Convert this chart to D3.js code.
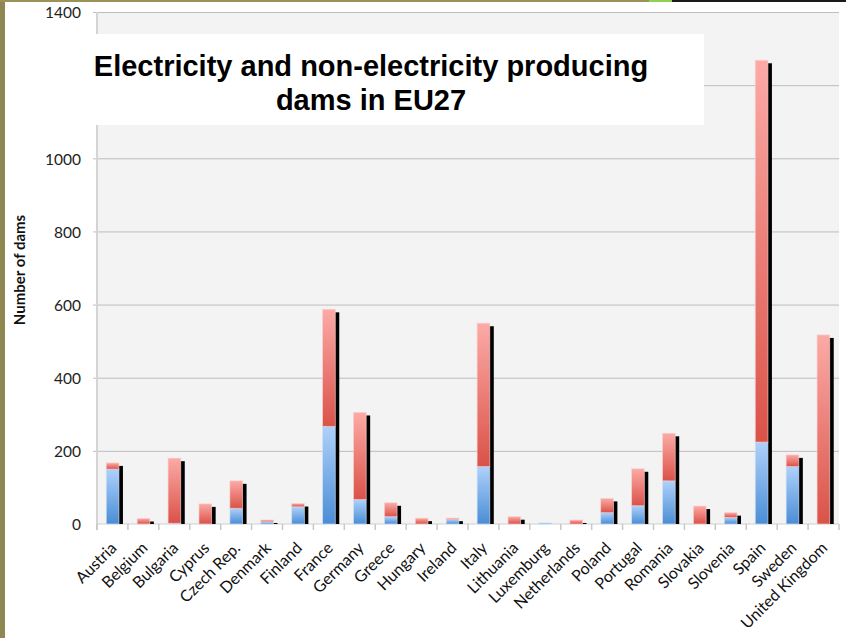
<!DOCTYPE html>
<html>
<head>
<meta charset="utf-8">
<script src="https://cdn.jsdelivr.net/npm/d3@7"></script>
<style>
  html, body { margin: 0; padding: 0; background: #ffffff; }
  svg { display: block; }
</style>
</head>
<body>
<svg id="chart" width="846" height="638"></svg>
<script>
// Dams per country: electricity producing (blue) and non-electricity producing (red)
const countries = ["Austria", "Belgium", "Bulgaria", "Cyprus", "Czech Rep.", "Denmark", "Finland",
  "France", "Germany", "Greece", "Hungary", "Ireland", "Italy", "Lithuania", "Luxemburg",
  "Netherlands", "Poland", "Portugal", "Romania", "Slovakia", "Slovenia", "Spain", "Sweden",
  "United Kingdom"];
const electricity = [150, 0, 2, 0, 43, 6, 47, 267, 67, 20, 0, 12, 157, 0, 3, 0, 31, 50, 118, 0, 18, 224, 157, 0];
const nonElectricity = [17, 15, 178, 55, 75, 5, 9, 320, 238, 38, 16, 4, 392, 20, 0, 11, 39, 101, 130, 49, 13, 1044, 32, 517];
const yTicks = [0, 200, 400, 600, 800, 1000, 1200, 1400];
const titleLines = ["Electricity and non-electricity producing", "dams in EU27"];
const yTitle = "Number of dams";

const svg = d3.select("#chart");
const W = 846, H = 638;
const plot = { left: 97, right: 839, top: 12, bottom: 524 };

// page frame: olive strip on the left, coloured rule along the top
svg.append("rect").attr("x", 0).attr("y", 0).attr("width", 5).attr("height", H).attr("fill", "#8e8752");
svg.append("rect").attr("x", 0).attr("y", 0).attr("width", 649).attr("height", 2).attr("fill", "#9a9258");
svg.append("rect").attr("x", 649).attr("y", 0).attr("width", 23).attr("height", 2).attr("fill", "#92d050");
svg.append("rect").attr("x", 672).attr("y", 0).attr("width", W - 672).attr("height", 2).attr("fill", "#1a1a1a");

const x = d3.scaleBand().domain(countries).range([plot.left, plot.right]).paddingInner(0.59).paddingOuter(0.3);
const y = d3.scaleLinear().domain([0, 1400]).range([plot.bottom, plot.top]);

const defs = svg.append("defs");
const gRed = defs.append("linearGradient").attr("id", "gradRed").attr("x1", 0).attr("y1", 0).attr("x2", 0).attr("y2", 1);
gRed.append("stop").attr("offset", "0%").attr("stop-color", "#fcaaa6");
gRed.append("stop").attr("offset", "100%").attr("stop-color", "#da5248");
const gBlue = defs.append("linearGradient").attr("id", "gradBlue").attr("x1", 0).attr("y1", 0).attr("x2", 0).attr("y2", 1);
gBlue.append("stop").attr("offset", "0%").attr("stop-color", "#aed1fb");
gBlue.append("stop").attr("offset", "100%").attr("stop-color", "#4a8dd5");
const blur = defs.append("filter").attr("id", "soft").attr("x", "-20%").attr("y", "-5%").attr("width", "140%").attr("height", "110%");
blur.append("feGaussianBlur").attr("stdDeviation", 0.5);

// plot background
svg.append("rect").attr("x", plot.left).attr("y", plot.top)
  .attr("width", plot.right - plot.left).attr("height", plot.bottom - plot.top)
  .attr("fill", "#f3f3f3");

// horizontal gridlines with small outside ticks
const yAxis = d3.axisLeft(y).tickValues(yTicks).tickSize(0).tickFormat(d3.format("d"));
const gy = svg.append("g").attr("transform", `translate(${plot.left - 4},0)`).call(yAxis);
gy.select(".domain").remove();
gy.selectAll(".tick line").attr("stroke", "#bdbdbd")
  .attr("x1", 0).attr("x2", plot.right - plot.left + 4);
gy.selectAll(".tick text")
  .attr("x", -12)
  .attr("dy", "0.38em")
  .attr("font-family", "Lato, 'Open Sans', sans-serif")
  .attr("font-size", 15.5)
  .attr("fill", "#222");
gy.selectAll(".tick").filter(d => d === 0).select("line").remove();

// left axis line
svg.append("line").attr("x1", plot.left).attr("x2", plot.left)
  .attr("y1", plot.top).attr("y2", plot.bottom + 6)
  .attr("stroke", "#d4d4d4").attr("stroke-width", 2);

// baseline and category separators
svg.append("line").attr("x1", plot.left).attr("x2", plot.right)
  .attr("y1", plot.bottom).attr("y2", plot.bottom)
  .attr("stroke", "#cfcfcf");
const seps = d3.range(countries.length + 1).map(i => plot.left + (plot.right - plot.left) * i / countries.length);
svg.append("g").selectAll("line").data(seps).join("line")
  .attr("x1", d => d).attr("x2", d => d)
  .attr("y1", plot.bottom).attr("y2", plot.bottom + 6)
  .attr("stroke", "#c8c8c8").attr("stroke-width", 1.5);

// stacked series
const rows = countries.map((c, i) => ({ country: c, electricity: electricity[i], nonElectricity: nonElectricity[i] }));
const stack = d3.stack().keys(["electricity", "nonElectricity"])(rows);
const totals = rows.map(r => r.electricity + r.nonElectricity);

// drop shadows behind each column
svg.append("g").selectAll("rect").data(rows).join("rect")
  .attr("x", (d) => x(d.country) + 4)
  .attr("y", (d, i) => y(totals[i]) + 3)
  .attr("width", x.bandwidth())
  .attr("height", (d, i) => Math.max(0, plot.bottom - y(totals[i]) - 3))
  .attr("fill", "#000")
  .attr("filter", "url(#soft)");

const fills = { electricity: "url(#gradBlue)", nonElectricity: "url(#gradRed)" };
const glow = { electricity: "#cfe2fb", nonElectricity: "#fbd0ce" };
svg.append("g").selectAll("g").data(stack).join("g")
  .each(function (series) {
    d3.select(this).selectAll("rect").data(series.filter(s => s[1] - s[0] > 0)).join("rect")
      .attr("x", s => x(s.data.country))
      .attr("y", s => y(s[1]))
      .attr("width", x.bandwidth())
      .attr("height", s => y(s[0]) - y(s[1]))
      .attr("fill", fills[series.key])
      .attr("stroke", glow[series.key])
      .attr("stroke-width", 0.8)
      .attr("stroke-opacity", 0.8);
  });

// category labels, rotated
svg.append("g").selectAll("text").data(countries).join("text")
  .attr("transform", d => `translate(${x(d) + x.bandwidth() / 2 + 5},${plot.bottom + 25}) rotate(-45)`)
  .attr("text-anchor", "end")
  .attr("font-family", "Lato, 'Open Sans', sans-serif")
  .attr("font-size", 16)
  .attr("fill", "#111")
  .text(d => d);

// y axis title
svg.append("text")
  .attr("transform", `translate(25,${(plot.top + plot.bottom) / 2 + 2}) rotate(-90)`)
  .attr("text-anchor", "middle")
  .attr("font-family", "Lato, 'Open Sans', sans-serif")
  .attr("font-weight", "bold")
  .attr("font-size", 15)
  .attr("fill", "#111")
  .text(yTitle);

// title panel
svg.append("rect").attr("x", 5).attr("y", 34).attr("width", 699).attr("height", 91).attr("fill", "#ffffff");
svg.append("g").selectAll("text").data(titleLines).join("text")
  .attr("x", 371)
  .attr("y", (d, i) => 76 + i * 34)
  .attr("text-anchor", "middle")
  .attr("font-family", "'Liberation Sans', Arial, sans-serif")
  .attr("font-weight", "bold")
  .attr("font-size", 29)
  .attr("fill", "#000")
  .text(d => d);
</script>
</body>
</html>
